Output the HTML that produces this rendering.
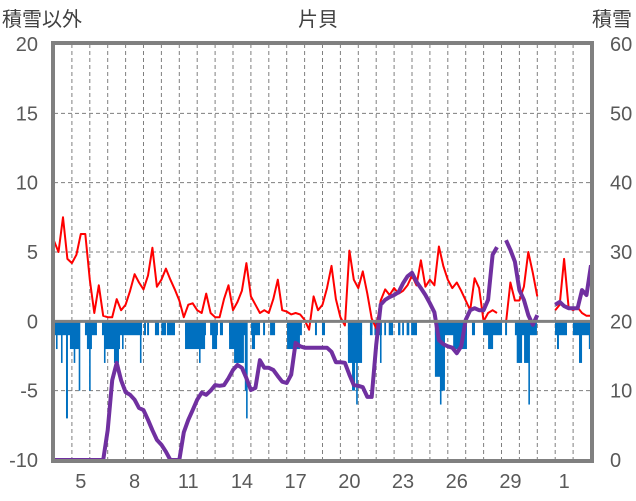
<!DOCTYPE html>
<html><head><meta charset="utf-8">
<style>
html,body{margin:0;padding:0;background:#fff;}
svg{display:block;font-family:"Liberation Sans","Noto Sans CJK JP",sans-serif;}
</style></head>
<body>
<svg id="chart" width="636" height="501" viewBox="0 0 636 501">
<text x="2" y="26" font-size="20" fill="#404040">積雪以外</text>
<text x="318" y="26" font-size="20" fill="#404040" text-anchor="middle">片貝</text>
<text x="632" y="26" font-size="20" fill="#404040" text-anchor="end">積雪</text>
<g id="grid"></g>
<g id="bars"></g>
<g id="lines"></g>
<g id="frame"></g>
<g id="ticks"></g>
</svg>
<script>
const leftTicks=[-10,-5,0,5,10,15,20];
const rightTicks=[0,10,20,30,40,50,60];
const dayLabels=["5","8","11","14","17","20","23","26","29","1"];
const dayLabelIdx=[1,4,7,10,13,16,19,22,25,28];
const numDays=30;
const samplesPerDay=4;
const redVals=[5.8,5.0,7.5,4.5,4.2,4.8,6.3,6.3,3.0,0.6,2.6,0.4,0.3,0.3,1.6,0.8,1.2,2.2,3.4,2.8,2.3,3.3,5.3,2.5,3.0,3.8,3.0,2.3,1.5,0.3,1.2,1.3,0.8,0.6,2.0,0.6,0.3,0.3,1.6,2.6,0.8,1.4,2.2,4.2,1.8,1.2,0.6,0.8,0.6,1.6,3.0,0.8,0.7,0.5,0.6,0.5,0.1,-0.6,1.8,0.8,1.2,2.4,4.0,1.6,0.3,-0.3,5.1,3.0,2.4,3.6,2.0,0.2,-0.5,1.5,2.3,1.9,2.4,2.0,2.2,2.6,3.3,2.6,4.4,2.5,3.0,2.6,5.4,4.0,3.0,2.4,2.8,2.2,1.5,0.8,3.1,2.4,0.0,0.6,0.8,0.6,null,-0.1,2.8,1.5,1.5,2.5,5.0,3.5,1.8,null,null,null,0.8,1.2,4.5,1.0,0.8,1.0,0.6,0.4,0.4];
const snowVals=[0,0,0,0,0,0,0,0,0,0,0,0,4.3,11.5,14,11.5,9.8,9.4,8.7,7.5,7.2,5.8,4.3,2.9,2.2,1.2,0,0,0,4,5.8,7.2,8.7,9.7,9.4,10,10.8,10.7,10.8,11.8,13,13.7,13.3,11.8,10.1,10.4,14.4,13.3,13.3,13,12.1,11.3,11.1,12.3,16.9,16.4,16.2,16.2,16.2,16.2,16.2,16.2,15.6,14.1,14.1,14,12.3,10.8,10.7,10.5,9.1,9.1,16.6,22.4,23.1,23.5,23.8,24.2,25.5,26.5,27,25.7,24.8,23.8,22.6,21.3,17.3,16.7,16.4,16.2,15.4,16.4,20.2,21.6,21.9,21.6,21.6,23.1,29.6,30.7,null,31.7,30.3,28.6,24.5,23.1,20.9,19.5,20.9,null,null,null,22.4,22.8,22.2,21.9,21.9,21.9,24.5,23.8,28.1];
const barStart=[0,0.11,0.39,0.67,0.89,1.1,1.38,1.73,1.84,1.96,2.68,2.79,2.85,3.35,3.80,4.80,5.03,5.20,5.64,6.0,6.31,7.32,7.32,8.10,8.72,8.83,9.27,9.78,9.78,10.06,10.66,10.73,11.01,11.06,11.68,12.07,13.02,13.02,14.58,14.97,16.42,16.42,16.65,16.88,17.65,17.9,18.15,18.45,18.7,18.21,18.0,19.22,19.45,19.7,19.95,21.28,21.28,21.62,21.56,22.3,23.35,23.97,24.25,25.20,25.75,25.85,26.26,26.5,27.99,28.10,28.99,29.33,29.88];
const barEnd=[1.45,0.2,0.45,0.78,1.45,1.17,1.45,2.4,2.12,2.03,4.92,2.85,3.69,3.63,3.86,4.86,5.14,5.31,5.87,6.26,6.76,8.49,8.44,8.16,9.16,9.11,9.44,10.78,10.5,10.61,10.73,10.78,11.51,11.23,11.79,12.35,13.85,13.74,14.69,15.14,17.21,17.21,16.82,16.96,17.8,18.05,18.32,18.55,18.94,18.27,18.05,19.35,19.55,19.85,20.28,23.07,21.84,21.84,21.62,23.07,23.52,25.03,24.53,25.31,26.98,26.15,26.54,26.58,28.66,28.21,29.94,29.5,29.94];
const barVals=[-1,-2,-3,-7,-2,-3,-5,-1,-2,-5,-1,-3,-2,-3,-2,-3,-1,-1,-1,-1,-1,-1,-2,-3,-1,-2,-1,-1,-2,-3,-5,-7,-1,-2,-1,-1,-1,-2,-1,-1,-1,-3,-5,-6,-1,-1,-1,-1,-1,-3,-2,-1,-1,-1,-1,-1,-4,-5,-6,-2,-1,-1,-2,-1,-1,-3,-3,-6,-1,-2,-1,-3,-2];

const NS="http://www.w3.org/2000/svg";
const X0=54,X1=591,Y0=44,Y1=460;
const xs=t=>X0+(t/numDays)*(X1-X0);
const yL=v=>Y1-(v+10)/30*(Y1-Y0);
const yR=v=>Y1-v/60*(Y1-Y0);
function mk(tag,attrs,parent){const e=document.createElementNS(NS,tag);for(const k in attrs)e.setAttribute(k,attrs[k]);parent.appendChild(e);return e;}
const grid=document.getElementById('grid'),bars=document.getElementById('bars'),lines=document.getElementById('lines'),frame=document.getElementById('frame'),ticks=document.getElementById('ticks');
// horizontal gridlines
leftTicks.forEach(v=>{if(v===0||v===-10||v===20)return;
 const l=mk('line',{x1:X0,x2:X1,y1:yL(v),y2:yL(v),stroke:'#7f7f7f','stroke-width':1,'stroke-dasharray':'4,3'},grid);
 
 });
for(let d=1;d<numDays;d++){
 const l=mk('line',{x1:xs(d),x2:xs(d),y1:Y0,y2:Y1,stroke:'#7f7f7f','stroke-width':1,'stroke-dasharray':'4,3'},grid);
 
 }
// bars
for(let i=0;i<barVals.length;i++){
 const xa=xs(barStart[i]),xb=Math.max(xs(barEnd[i]),xa+1.6);
 const r=mk('rect',{x:xa,y:yL(0),width:xb-xa,height:yL(barVals[i])-yL(0),fill:'#0070C0'},bars);
 
 }
// zero line
const z=mk('line',{x1:X0,x2:X1,y1:yL(0),y2:yL(0),stroke:'#808080','stroke-width':3},frame);


function path(vals,yf){let d='',pen=false;vals.forEach((v,i)=>{if(v===null){pen=false;return;}const x=xs(i/samplesPerDay),y=yf(v);d+=(pen?'L':'M')+x.toFixed(1)+' '+y.toFixed(1)+' ';pen=true;});return d;}
const red=mk('path',{d:path(redVals,yL),fill:'none',stroke:'#FF0000','stroke-width':2,'stroke-linejoin':'round'},lines);


const pur=mk('path',{d:path(snowVals,yR),fill:'none',stroke:'#7030A0','stroke-width':4,'stroke-linejoin':'round'},lines);


const fr=mk('rect',{x:X0-1,y:Y0-1,width:X1-X0+2,height:Y1-Y0+2,fill:'none',stroke:'#808080','stroke-width':4},frame);


leftTicks.forEach(v=>{const t=mk('text',{x:38,y:yL(v)+7,'font-size':20,fill:'#595959','text-anchor':'end'},ticks);t.textContent=v;
 
 });
rightTicks.forEach(v=>{const t=mk('text',{x:610,y:yR(v)+7,'font-size':20,fill:'#595959','text-anchor':'start'},ticks);t.textContent=v;
 
 });
dayLabels.forEach((s,i)=>{const t=mk('text',{x:xs(dayLabelIdx[i]+0.5),y:488,'font-size':20,fill:'#595959','text-anchor':'middle'},ticks);t.textContent=s;
 
 });
</script>
</body></html>
